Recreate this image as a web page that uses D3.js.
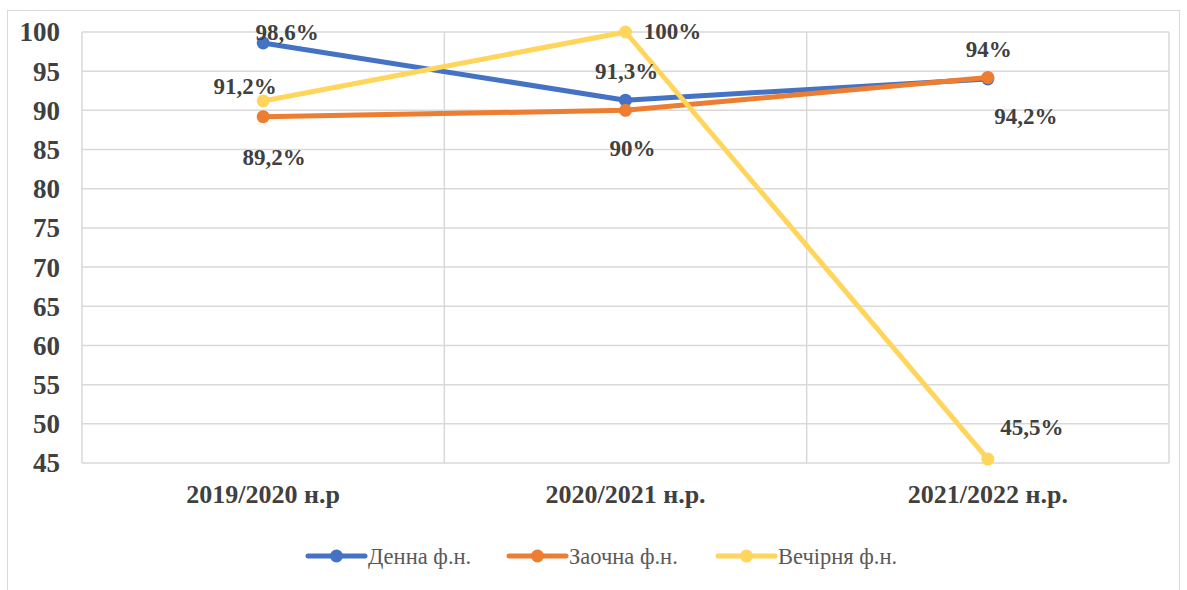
<!DOCTYPE html>
<html><head><meta charset="utf-8">
<script src="https://cdn.jsdelivr.net/npm/d3@7/dist/d3.min.js"></script>
<style>body{margin:0;background:#fff}</style>
</head><body>
<svg id="c" width="1187" height="590"></svg>
<script>
const categories = ["2019/2020 н.р", "2020/2021 н.р.", "2021/2022 н.р."];
const seriesNames = ["Денна ф.н.", "Заочна ф.н.", "Вечірня ф.н."];
const dennaValues = [98.6, 91.3, 94];
const zaochnaValues = [89.2, 90, 94.2];
const vechirnyaValues = [91.2, 100, 45.5];
const dennaLabels = ["98,6%", "91,3%", "94%"];
const zaochnaLabels = ["89,2%", "90%", "94,2%"];
const vechirnyaLabels = ["91,2%", "100%", "45,5%"];
const yTicks = [45,50,55,60,65,70,75,80,85,90,95,100];

const colors = ["#4472C4", "#ED7D31", "#FFD55C"];
const series = [
  {name: seriesNames[0], values: dennaValues, labels: dennaLabels, color: colors[0],
   off: [[24,-11],[1,-29],[1,-30]]},
  {name: seriesNames[1], values: zaochnaValues, labels: zaochnaLabels, color: colors[1],
   off: [[11,40],[7,38],[38,38]]},
  {name: seriesNames[2], values: vechirnyaValues, labels: vechirnyaLabels, color: colors[2],
   off: [[-18,-15],[47,-1],[44,-32]]}
];

const svg = d3.select("#c");
const m = {l:82, r:1169, t:32, b:463};
const x = d3.scaleBand().domain(categories).range([m.l, m.r]);
const y = d3.scaleLinear().domain([45,100]).range([m.b, m.t]);
const serif = "'Liberation Serif', 'Times New Roman', serif";

// outer border
svg.append("rect").attr("x",7.5).attr("y",10.5).attr("width",1172).attr("height",590)
  .attr("fill","none").attr("stroke","#d9d9d9").attr("stroke-width",1);

// horizontal gridlines
svg.append("g").selectAll("line").data(yTicks).join("line")
  .attr("x1", m.l).attr("x2", m.r)
  .attr("y1", d=>y(d)).attr("y2", d=>y(d))
  .attr("stroke","#d9d9d9").attr("stroke-width",1.5);
// vertical gridlines (category boundaries)
const vb = [m.l, ...categories.map(c=>x(c)+x.bandwidth())];
svg.append("g").selectAll("line").data(vb).join("line")
  .attr("x1", d=>d).attr("x2", d=>d)
  .attr("y1", m.t).attr("y2", m.b)
  .attr("stroke","#d9d9d9").attr("stroke-width",1.5);

// y axis labels
const yAxis = d3.axisLeft(y).tickValues(yTicks).tickSize(0).tickPadding(22);
const ya = svg.append("g").attr("transform",`translate(${m.l},0)`).call(yAxis);
ya.select(".domain").remove();
ya.selectAll("text").attr("font-family",serif).attr("font-weight","bold")
  .attr("font-size",27).attr("fill","#404040").attr("x",-22).attr("dy","0.33em").attr("text-anchor","end");

// x axis labels
const xAxis = d3.axisBottom(x).tickSize(0).tickPadding(22);
const xa = svg.append("g").attr("transform",`translate(0,${m.b})`).call(xAxis);
xa.select(".domain").remove();
xa.selectAll("text").attr("font-family",serif).attr("font-weight","bold")
  .attr("font-size",26).attr("fill","#404040");

const cx = c => x(c) + x.bandwidth()/2;
const line = d3.line().x((d,i)=>cx(categories[i])).y(d=>y(d));

series.forEach(s=>{
  svg.append("path").datum(s.values).attr("d",line).attr("fill","none")
    .attr("stroke",s.color).attr("stroke-width",5).attr("stroke-linejoin","round").attr("stroke-linecap","round");
  svg.append("g").selectAll("circle").data(s.values).join("circle")
    .attr("cx",(d,i)=>cx(categories[i])).attr("cy",d=>y(d)).attr("r",6.5).attr("fill",s.color);
});
series.forEach(s=>{
  svg.append("g").selectAll("text").data(s.values).join("text")
    .attr("x",(d,i)=>cx(categories[i]) + s.off[i][0])
    .attr("y",(d,i)=>y(d) + s.off[i][1])
    .attr("dy","0.35em").attr("text-anchor","middle")
    .attr("font-family",serif).attr("font-weight","bold")
    .attr("font-size",23).attr("fill","#404040")
    .text((d,i)=>s.labels[i]);
});

// legend
const legX = [308, 509, 718];
const lg = svg.append("g");
series.forEach((s,i)=>{
  const g = lg.append("g").attr("transform",`translate(${legX[i]},556)`);
  g.append("line").attr("x1",0).attr("x2",57).attr("y1",0).attr("y2",0)
    .attr("stroke",s.color).attr("stroke-width",5).attr("stroke-linecap","round");
  g.append("circle").attr("cx",28.5).attr("cy",0).attr("r",6.5).attr("fill",s.color);
  g.append("text").attr("x",60).attr("y",0).attr("dy","0.35em")
    .attr("font-family",serif).attr("font-size",22.5).attr("fill","#595959")
    .text(s.name);
});
</script>
</body></html>
